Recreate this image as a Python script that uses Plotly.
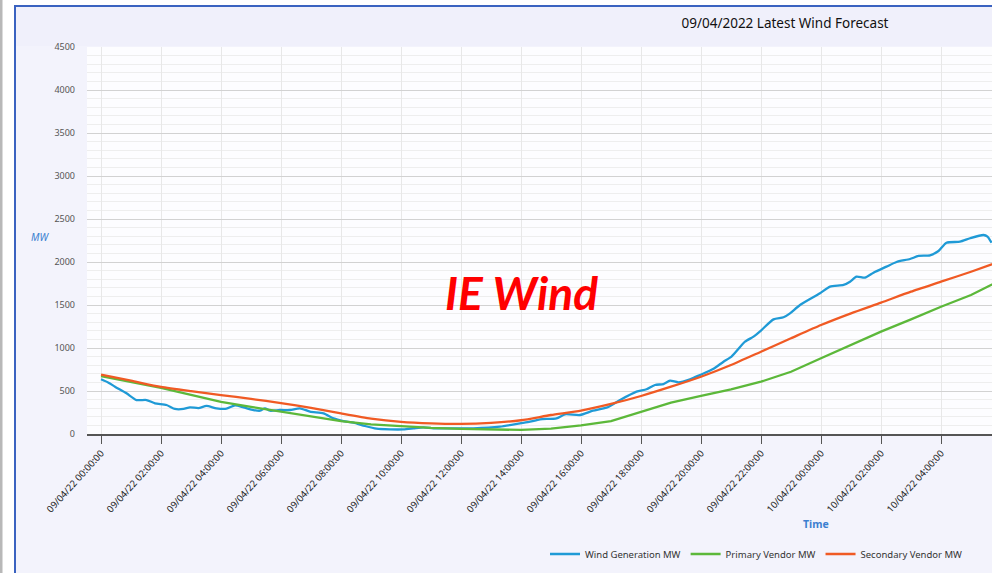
import pandas as pd
import plotly.graph_objects as go

# ---- data (minutes after 09/04/22 00:00, MW) ----
wind_minutes = [0, 15, 28, 51, 71, 91, 108, 131, 148, 165, 178, 195, 211, 231, 251, 268, 285, 305,
                318, 328, 338, 358, 378, 398, 418, 445, 465, 485, 505, 528, 551, 578, 605, 625, 645,
                665, 705, 745, 798, 838, 858, 878, 911, 928, 958, 984, 1011, 1038, 1071, 1091, 1108,
                1125, 1138, 1155, 1178, 1198, 1225, 1245, 1261, 1288, 1305, 1321, 1345, 1365, 1378,
                1398, 1438, 1458, 1485, 1498, 1511, 1528, 1545, 1571, 1591, 1618, 1635, 1658, 1675,
                1691, 1718, 1738, 1765, 1773, 1781]
wind_mw = [636, 597, 550, 473, 395, 395, 357, 337, 291, 291, 310, 302, 326, 299, 295, 333, 310, 279,
           271, 299, 271, 279, 279, 299, 260, 240, 182, 151, 132, 93, 62, 54, 54, 66, 78,
           66, 66, 66, 85, 124, 143, 171, 182, 229, 221, 271, 306, 395, 492, 520, 570,
           581, 620, 601, 636, 686, 758, 841, 899, 1073, 1132, 1209, 1333, 1357, 1403,
           1500, 1636, 1713, 1733, 1771, 1829, 1818, 1876, 1946, 2000, 2035, 2070, 2078, 2128,
           2224, 2236, 2276, 2314, 2294, 2224]

vendor_minutes = [0, 60, 120, 180, 240, 300, 360, 420, 480, 540, 600, 660, 720, 780, 840, 900,
                  960, 1020, 1080, 1140, 1200, 1260, 1320, 1380, 1440, 1500, 1560, 1620, 1680,
                  1740, 1800]
primary_mw = [674, 605, 536, 455, 374, 315, 260, 200, 149, 112, 88, 72, 60, 52, 47, 62,
              100, 150, 260, 364, 442, 519, 608, 724, 880, 1035, 1190, 1333, 1480, 1616, 1790]
secondary_mw = [690, 620, 548, 498, 453, 408, 360, 305, 240, 180, 142, 124, 118, 130, 160, 221,
                271, 349, 442, 550, 666, 802, 957, 1113, 1267, 1403, 1527, 1655, 1771, 1887, 2010]

series_names = ["Wind Generation MW", "Primary Vendor MW", "Secondary Vendor MW"]
title_text = "09/04/2022 Latest Wind Forecast"
watermark = "IE Wind"

base = pd.Timestamp("2022-04-09 00:00")
wind_t = base + pd.to_timedelta(wind_minutes, unit="min")
vend_t = base + pd.to_timedelta(vendor_minutes, unit="min")

W, H = 992, 573
L, R, T, B = 87, 0, 47, 139
pw, ph = W - L - R, H - T - B


def px(x):
    return (x - L) / pw


def py(y):
    return (H - B - y) / ph


fig = go.Figure()
fig.add_trace(go.Scatter(x=wind_t, y=wind_mw, name=series_names[0], mode="lines",
                         line=dict(color="#1f9ad6", width=2.3, shape="spline", smoothing=0.6)))
fig.add_trace(go.Scatter(x=vend_t, y=primary_mw, name=series_names[1], mode="lines",
                         line=dict(color="#5cb83a", width=2.3)))
fig.add_trace(go.Scatter(x=vend_t, y=secondary_mw, name=series_names[2], mode="lines",
                         line=dict(color="#f05a24", width=2.3, shape="spline", smoothing=0.6)))

shapes = [
    # outer gray strip
    dict(type="rect", xref="paper", yref="paper", x0=px(0), x1=px(2.5), y0=py(-10), y1=py(600),
         fillcolor="#b8b8b8", line=dict(width=0), layer="below"),
    # chart frame
    dict(type="rect", xref="paper", yref="paper", x0=px(15), x1=px(1010), y0=py(6), y1=py(600),
         fillcolor="#f3f3fc", line=dict(color="#3a62c0", width=2), layer="below"),
    # header band
    dict(type="rect", xref="paper", yref="paper", x0=px(16), x1=px(1010), y0=py(46), y1=py(7),
         fillcolor="#f0f0fb", line=dict(width=0), layer="below"),
    # plot area
    dict(type="rect", xref="paper", yref="paper", x0=0, x1=1, y0=0, y1=1,
         fillcolor="#fdfdff", line=dict(width=0), layer="below"),
]

annotations = [
    dict(text=watermark, xref="paper", yref="paper", x=px(521), y=py(292),
         xanchor="center", yanchor="middle", showarrow=False,
         font=dict(family="Lato", size=46, color="#ff0000", weight="bold", style="italic")),
    dict(text="MW", xref="paper", yref="paper", x=px(40), y=py(237),
         xanchor="center", yanchor="middle", showarrow=False,
         font=dict(family="Noto Sans", size=10, color="#3b7fd0", style="italic")),
    dict(text="<b>Time</b>", xref="paper", yref="paper", x=px(816), y=py(524),
         xanchor="center", yanchor="middle", showarrow=False,
         font=dict(family="Noto Sans", size=10.5, color="#3b7fd0")),
]

fig.update_layout(
    width=W, height=H,
    margin=dict(l=L, r=R, t=T, b=B, pad=0),
    paper_bgcolor="#ffffff",
    plot_bgcolor="rgba(0,0,0,0)",
    font=dict(family="Noto Sans", size=9, color="#444"),
    title=dict(text=title_text, x=785 / W, xref="container", xanchor="center",
               y=1 - 23 / H, yref="container", yanchor="middle",
               font=dict(family="Noto Sans", size=13.5, color="#111")),
    shapes=shapes,
    annotations=annotations,
    showlegend=True,
    legend=dict(orientation="h", xref="paper", yref="paper", x=px(968), xanchor="right",
                y=py(554), yanchor="middle", bgcolor="rgba(0,0,0,0)",
                font=dict(family="Noto Sans", size=9.5, color="#333"),
                itemwidth=30, tracegroupgap=0),
    xaxis=dict(
        type="date",
        range=[base - pd.Timedelta(minutes=28), base + pd.Timedelta(minutes=1782)],
        tick0=base, dtick=2 * 3600 * 1000, tickformat="%d/%m/%y %H:%M:%S",
        tickangle=-48, ticks="outside", ticklen=8, tickwidth=1.3, tickcolor="#555",
        showline=True, linecolor="#555", linewidth=2,
        showgrid=True, gridcolor="#e8e8e8", gridwidth=1,
        tickfont=dict(family="Noto Sans", size=9.5, color="#222"),
        zeroline=False,
    ),
    yaxis=dict(
        range=[0, 4500], dtick=500, tick0=0,
        showgrid=True, gridcolor="#d2d2d2", gridwidth=1.3,
        minor=dict(dtick=100, showgrid=True, gridcolor="#eeeeee", gridwidth=1),
        ticks="", ticklabelstandoff=11,
        tickfont=dict(family="Noto Sans", size=9, color="#555"),
        zeroline=False, showline=False,
    ),
)

fig.write_html("out.html", config={"displayModeBar": False},
               post_script="document.body.style.margin='0';document.body.style.overflow='hidden';")
